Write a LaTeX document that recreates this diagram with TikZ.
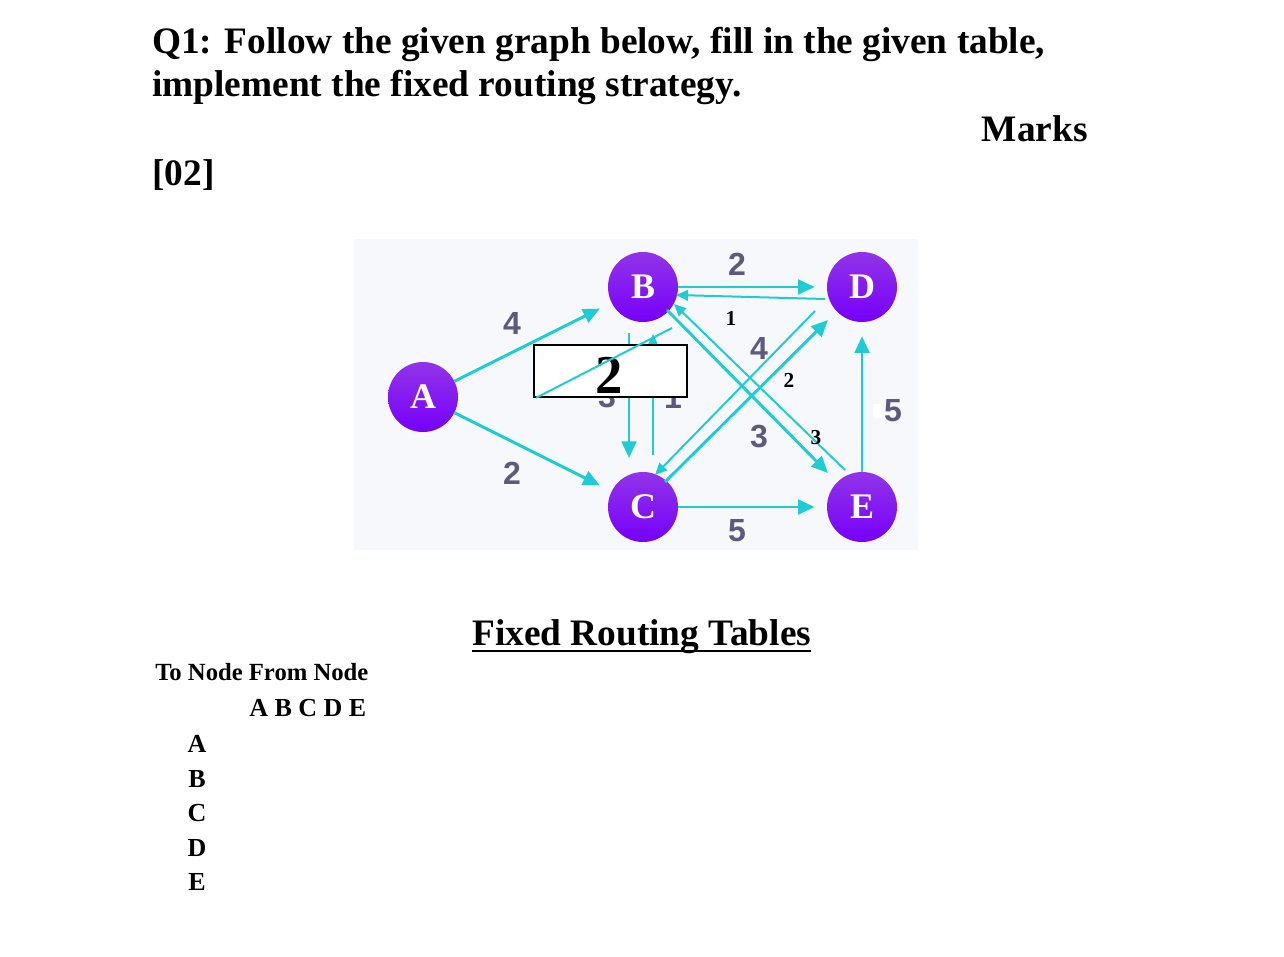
\documentclass[tikz,border=0pt]{standalone}
\usepackage{fontspec}
\setmainfont{Liberation Serif}
\newfontfamily\lblfont{Liberation Sans}
\usetikzlibrary{arrows.meta,calc}
\definecolor{edgecyan}{RGB}{32,204,212}
\definecolor{lblgrey}{RGB}{92,90,126}
\definecolor{bgpanel}{RGB}{247,248,251}
\definecolor{nodetop}{RGB}{146,52,232}
\definecolor{nodebot}{RGB}{118,0,250}
\tikzset{
  vertex/.style={circle, minimum size=52.5pt, inner sep=0pt, top color=nodetop, bottom color=nodebot,
    text=white, font=\bfseries\fontsize{27}{27}\selectfont},
  mainedge/.style={draw=edgecyan, line width=2.2pt, -{Triangle[length=12.5pt,width=11pt]}},
  thinedge/.style={draw=edgecyan, line width=1.5pt, -{Triangle[length=9pt,width=8pt]}},
  plainedge/.style={draw=edgecyan, line width=1.5pt},
  weight/.style={text=lblgrey, font=\lblfont\bfseries\fontsize{24}{24}\selectfont, inner sep=0pt},
  smallw/.style={text=black, font=\bfseries\fontsize{16}{16}\selectfont, inner sep=0pt},
  titletext/.style={anchor=base west, inner sep=0pt, font=\bfseries\fontsize{28}{28}\selectfont},
  tabletext/.style={inner sep=0pt, font=\bfseries\fontsize{19.5}{19.5}\selectfont},
}
\begin{document}
\begin{tikzpicture}[x=0.75pt,y=-0.75pt]
\useasboundingbox (0,0) rectangle (1284,956);
\fill[white] (0,0) rectangle (1284,956);

% title
\node[titletext] (t1) at (152,54) {Q1: Follow the given graph below, fill in the given table,};
\node[titletext] (t2) at (152,97) {implement the fixed routing strategy.};
\node[titletext, anchor=base east] (marks) at (1088,141) {Marks};
\node[titletext] (mk) at (152,185) {[02]};

% graph panel
\fill[bgpanel] (354,239) rectangle (918,550);

\node[vertex] (A) at (423,397) {A};
\node[vertex] (B) at (643,287) {B};
\node[vertex] (D) at (862,287) {D};
\node[vertex] (C) at (643,507) {C};
\node[vertex] (E) at (862,507) {E};

% weights under the box
\node[weight] (w3) at (607,397) {3};
\node[weight] (w1) at (673,397) {1};

% main edges
\draw[mainedge, shorten >=9.75pt] (A) -- (B);
\draw[mainedge, shorten >=9.75pt] (A) -- (C);
\draw[mainedge, shorten >=9pt] (B) -- (D);
\draw[mainedge, shorten >=9pt] (C) -- (E);
\draw[mainedge, shorten >=10.5pt] (E) -- (D);
\draw[mainedge] ($(B)+(-14,46)$) -- ($(C)+(-14,-49)$);
\draw[mainedge] ($(B)+(24,23)$) -- ($(E)+(-34,-34)$);
\draw[mainedge] ($(C)+(22,-25)$) -- ($(D)+(-34,33)$);

% thin return edges
\draw[thinedge] ($(D)+(-37,12)$) -- ($(B)+(33,8)$);
\draw[thinedge] ($(E)+(-17,-37)$) -- ($(B)+(31,17)$);
\draw[thinedge] ($(D)+(-47,24)$) -- ($(C)+(12,-32)$);
\draw[thinedge] ($(C)+(10,-52)$) -- ($(B)+(10,47)$);

% box
\node[draw=black, line width=1.3pt, fill=white, minimum width=115pt, minimum height=39pt, inner sep=0pt] (box) at (610.5,371) {};
\node[inner sep=0pt, font=\bfseries\fontsize{41}{41}\selectfont, anchor=base] (boxval) at (609,393) {2};
\draw[plainedge] ($(B)+(29,41)$) -- ($(box.south west)+(3,0)$);

% weights
\node[weight] (wab) at (512,323) {4};
\node[weight] (wac) at (512,473) {2};
\node[weight] (wbd) at (737,264) {2};
\node[weight] (wbe) at (759,348) {4};
\node[weight] (wcd) at (759,437) {3};
\node[weight] (wce) at (737,531) {5};
\fill[white] (873,404) rectangle (881,418);
\node[weight] (wed) at (893,411) {5};
\node[smallw] (sdb) at (731,318) {1};
\node[smallw] (sdc) at (789,380) {2};
\node[smallw] (seb) at (816,438) {3};

% table
\node[anchor=base west, inner sep=0pt, font=\bfseries\fontsize{28}{28}\selectfont] (ftitle) at (472,645) {Fixed Routing Tables};
\draw[line width=1.5pt] ($(ftitle.base west)+(0,6)$) -- ($(ftitle.base east)+(0,6)$);
\node[tabletext, anchor=base west, font=\bfseries\fontsize{18.5}{18.5}\selectfont] (hdr) at (155,680) {To Node From Node};
\node[tabletext, anchor=base west] (cols) at (249,716) {A B C D E};
\node[tabletext, anchor=base] (ra) at (197,752) {A};
\node[tabletext, anchor=base] (rb) at (197,787) {B};
\node[tabletext, anchor=base] (rc) at (197,821) {C};
\node[tabletext, anchor=base] (rd) at (197,856) {D};
\node[tabletext, anchor=base] (re) at (197,890) {E};
\end{tikzpicture}
\end{document}
